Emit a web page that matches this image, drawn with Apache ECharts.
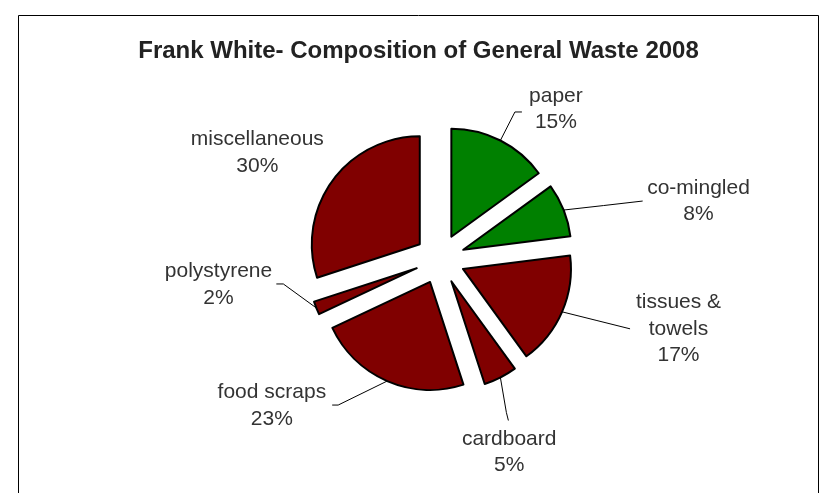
<!DOCTYPE html>
<html><head><meta charset="utf-8">
<script src="https://cdn.jsdelivr.net/npm/echarts@6/dist/echarts.min.js"></script>
<style>html,body{margin:0;padding:0;background:#fff}#c{width:837px;height:493px}</style>
</head><body><div id="c"></div>
<script>
const categories = ['paper', 'co-mingled', 'tissues &\ntowels', 'cardboard', 'food scraps', 'polystyrene', 'miscellaneous'];
const values = [15, 8, 17, 5, 23, 2, 30];
const colors = ['#008000', '#008000', '#800000', '#800000', '#800000', '#800000', '#800000'];
// leader line lengths (radial, horizontal) and text shift from the default anchor
const lineLen = [[32, 7], [2, 83], [43, 29], [48, 0], [26, 45], [2, 38], [10, 10]];
const textShift = [[29, -3], [45, -8], [43, 0], [-18, 32], [-55, 1], [-53, -24], [-52, -22]];
const showLine = [true, true, true, true, true, true, false];
// optional leader bends, relative to the line's start on the slice edge
const lineBend = [null, [[40, -4.5], [79, -9]], [[34, 8.5], [68, 17]], [[6, 35], [8, 43]], [[-49, 24], [-55, 24]], [[-33, -24], [-40, -24]], null];

const chart = echarts.init(document.getElementById('c'));
chart.setOption({
  animation: false,
  title: {
    text: 'Frank White- Composition of General Waste 2008',
    left: 'center', top: 34,
    textStyle: {fontFamily: 'Liberation Sans', fontWeight: 'bold', fontSize: 24, color: '#222'}
  },
  graphic: [{type: 'rect', shape: {x: 18.5, y: 15.5, width: 800, height: 500}, style: {fill: 'none', stroke: '#000', lineWidth: 1}}],
  series: [{
    type: 'pie',
    center: [440, 259],
    radius: [0, 108],
    startAngle: 90,
    clockwise: true,
    selectedMode: 'multiple',
    selectedOffset: 25,
    avoidLabelOverlap: false,
    itemStyle: {borderColor: '#000', borderWidth: 2},
    emphasis: {disabled: true},
    label: {
      show: true, position: 'outside',
      formatter: p => p.name.split('\n').map(s => '{t|' + s + '}').join('\n') + '\n{t|' + p.percent.toFixed(0) + '%}',
      rich: {t: {fontFamily: 'Liberation Sans', fontSize: 21, color: '#333', lineHeight: 26.5, align: 'center'}},
      fontFamily: 'Liberation Sans', fontSize: 21, color: '#333', lineHeight: 26.5
    },
    labelLine: {show: true, lineStyle: {color: '#000', width: 1}},
    labelLayout: p => {
      const i = p.dataIndex;
      const out = {dx: textShift[i][0], dy: textShift[i][1], align: 'center', verticalAlign: 'middle'};
      const pts = p.labelLinePoints;
      if (lineBend[i] && pts && pts.length) {
        const s = pts[0];
        out.labelLinePoints = [[s[0], s[1]]].concat(lineBend[i].map(v => [s[0] + v[0], s[1] + v[1]]));
      }
      return out;
    },
    data: categories.map((c, i) => ({
      name: c, value: values[i], selected: true,
      itemStyle: {color: colors[i]},
      labelLine: {show: showLine[i], length: lineLen[i][0], length2: lineLen[i][1]}
    }))
  }]
});
</script></body></html>
